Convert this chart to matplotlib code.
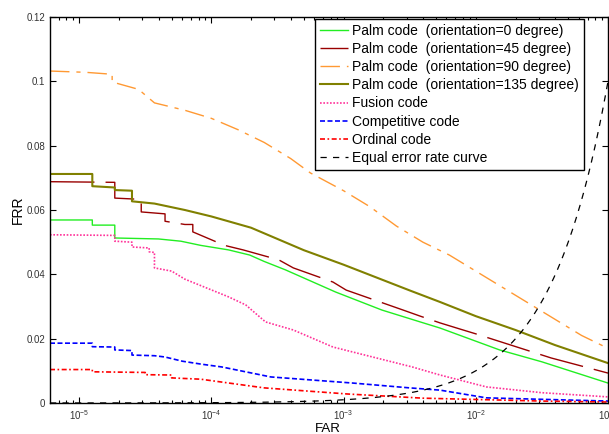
import matplotlib
matplotlib.use("Agg")
matplotlib.rcParams["font.family"] = "Liberation Sans"
matplotlib.rcParams["mathtext.fontset"] = "custom"
matplotlib.rcParams["mathtext.rm"] = "Liberation Sans"

import matplotlib.pyplot as plt
import numpy as np
from matplotlib.ticker import LogLocator, FixedLocator

# FAR values are given as log10 exponents, FRR as fractions
green_far = [-5.22, -4.9, -4.9, -4.73, -4.73, -4.4, -4.23, -4.08, -3.87, -3.71, -3.6,
             -3.44, -3.06, -2.71, -2.42, -2.27, -1.82, -1.5, -1.0]
green_frr = [0.0569, 0.0569, 0.0553, 0.0553, 0.0513, 0.051, 0.0503, 0.049, 0.0476, 0.046, 0.044,
             0.0414, 0.0345, 0.0289, 0.0252, 0.0233, 0.0165, 0.0128, 0.0062]

maroon_far = [-5.22, -4.73, -4.73, -4.53, -4.53, -4.35, -4.35, -4.2, -4.14, -4.14, -3.9, -3.76,
              -3.49, -3.38, -3.08, -2.98, -2.55, -2.42, -2.27, -2.12, -2.0, -1.43, -1.32, -1.0]
maroon_frr = [0.0688, 0.0686, 0.0637, 0.0633, 0.0594, 0.0588, 0.0565, 0.0555, 0.0555, 0.0532, 0.049, 0.0476,
              0.0445, 0.042, 0.0376, 0.0351, 0.0289, 0.027, 0.0249, 0.023, 0.0215, 0.014, 0.0128, 0.0093]

orange_far = [-5.22, -4.95, -4.75, -4.75, -4.55, -4.43, -4.2, -4.0, -3.8, -3.6, -3.4, -3.25,
              -3.0, -2.8, -2.6, -2.4, -2.2, -2.0, -1.8, -1.6, -1.4, -1.2, -1.0]
orange_frr = [0.1032, 0.1028, 0.1022, 0.0998, 0.0975, 0.0933, 0.091, 0.0885, 0.085, 0.081, 0.076, 0.0715,
              0.066, 0.061, 0.055, 0.050, 0.046, 0.041, 0.036, 0.031, 0.026, 0.021, 0.017]

olive_far = [-5.22, -4.9, -4.9, -4.73, -4.73, -4.6, -4.6, -4.43, -4.2, -4.0, -3.7, -3.5, -3.3,
             -3.0, -2.75, -2.5, -2.27, -2.0, -1.7, -1.4, -1.0]
olive_frr = [0.0712, 0.0712, 0.0674, 0.067, 0.0662, 0.066, 0.0627, 0.062, 0.060, 0.058, 0.0545, 0.051, 0.0475,
             0.043, 0.039, 0.035, 0.0314, 0.027, 0.0227, 0.018, 0.0124]

fusion_far = [-5.22, -4.73, -4.73, -4.6, -4.6, -4.47, -4.47, -4.43, -4.43, -4.3, -4.2, -4.05,
              -3.87, -3.74, -3.59, -3.38, -3.08, -2.78, -2.48, -2.27, -1.92, -1.5, -1.0]
fusion_frr = [0.0523, 0.0521, 0.0503, 0.050, 0.0485, 0.0482, 0.047, 0.0468, 0.042, 0.041, 0.0385, 0.036,
              0.033, 0.0305, 0.0252, 0.0227, 0.0174, 0.0143, 0.0112, 0.0087, 0.005, 0.0032, 0.0019]

comp_far = [-5.22, -4.9, -4.9, -4.73, -4.73, -4.6, -4.6, -4.43, -4.35, -4.22, -4.08, -3.92,
            -3.55, -2.93, -2.5, -2.27, -1.92, -1.0]
comp_frr = [0.0186, 0.0186, 0.0175, 0.0174, 0.0165, 0.0163, 0.0149, 0.0147, 0.0143, 0.013, 0.0121, 0.0112,
            0.0081, 0.0062, 0.0047, 0.004, 0.0016, 0.0006]

ord_far = [-5.22, -4.9, -4.9, -4.5, -4.5, -4.3, -4.3, -4.08, -3.6, -2.97, -2.4, -1.5, -1.0]
ord_frr = [0.0104, 0.0104, 0.0097, 0.0095, 0.0088, 0.0087, 0.0078, 0.0074, 0.0047, 0.0028, 0.0015, 0.0006, 0.0003]

labels = [
    "Palm code  (orientation=0 degree)",
    "Palm code  (orientation=45 degree)",
    "Palm code  (orientation=90 degree)",
    "Palm code  (orientation=135 degree)",
    "Fusion code",
    "Competitive code",
    "Ordinal code",
    "Equal error rate curve",
]

fig = plt.figure(figsize=(6.09, 4.34), dpi=100)
ax = fig.add_axes([50 / 609, 1 - 403 / 434, 558 / 609, 386 / 434])

def exp10(v):
    return 10 ** np.array(v)

ax.plot(exp10(green_far), green_frr, color="#22EE22", lw=1.0, label=labels[0])
ax.plot(exp10(maroon_far), maroon_frr, color="#990000", lw=1.0, dashes=(32, 8), label=labels[1])
ax.plot(exp10(orange_far), orange_frr, color="#FF9933", lw=1.0, dashes=(14, 5, 3, 5), label=labels[2])
ax.plot(exp10(olive_far), olive_frr, color="#808000", lw=1.5, label=labels[3])
ax.plot(exp10(fusion_far), fusion_frr, color="#FF3399", lw=1.2, dashes=(1, 1), label=labels[4])
ax.plot(exp10(comp_far), comp_frr, color="#0000FF", lw=1.2, dashes=(3, 1.5), label=labels[5])
ax.plot(exp10(ord_far), ord_frr, color="#FF0000", lw=1.2, dashes=(3, 1.5, 1, 1.5), label=labels[6])

# reference line FRR = FAR
eer = np.logspace(-5.22, -1, 300)
ax.plot(eer, eer, color="black", lw=0.9, dashes=(5, 5), label=labels[7])

ax.set_xscale("log")
ax.set_xlim(10 ** -5.22, 1e-1)
ax.set_ylim(0, 0.12)
ax.set_yticks([0, 0.02, 0.04, 0.06, 0.08, 0.1, 0.12])
ax.set_yticklabels(["0", "0.02", "0.04", "0.06", "0.08", "0.1", "0.12"])
ax.xaxis.set_major_locator(FixedLocator([1e-5, 1e-4, 1e-3, 1e-2, 1e-1]))
ax.xaxis.set_minor_locator(LogLocator(base=10, subs=np.arange(2, 10), numticks=20))

ax.tick_params(which="both", direction="in", top=True, right=True, labelsize=7,
               labelcolor="#333333", width=0.8)
ax.tick_params(which="major", length=4)
ax.tick_params(which="minor", length=2)
for s in ax.spines.values():
    s.set_linewidth(1.0)

ax.set_xlabel("FAR", fontsize=9.5, va="baseline")
ax.xaxis.set_label_coords(0.498, (403 - 432) / 386)
ax.set_ylabel("FRR", fontsize=10, labelpad=1)

leg = ax.legend(loc="upper right", bbox_to_anchor=(0.957, 0.995), fontsize=10,
                handlelength=2.0, handletextpad=0.35, labelspacing=0.3,
                borderpad=0.35, borderaxespad=0, fancybox=False, framealpha=1)
leg.get_frame().set_edgecolor("black")
leg.get_frame().set_linewidth(1.0)

fig.savefig("out.png", dpi=100)
